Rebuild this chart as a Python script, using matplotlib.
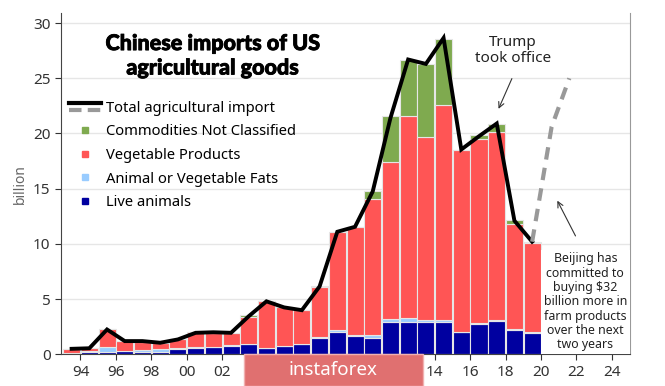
import matplotlib
matplotlib.use("Agg")
import matplotlib.pyplot as plt
import matplotlib.patheffects as pe
from matplotlib.lines import Line2D
from matplotlib.legend_handler import HandlerBase
import numpy as np

# data (billion USD), one bar per year
years = np.arange(1993, 2020)
live_animals = [0.10, 0.18, 0.20, 0.30, 0.24, 0.25, 0.45, 0.60, 0.63, 0.80, 0.90, 0.55, 0.75, 0.93,
                1.45, 2.05, 1.66, 1.45, 2.90, 2.93, 2.95, 2.90, 2.00, 2.75, 3.02, 2.17, 1.96]
fats = [0.05, 0.12, 0.46, 0.03, 0.16, 0.20, 0.15, 0.03, 0.03, 0.03, 0.05, 0.03, 0.03, 0.03,
        0.10, 0.20, 0.10, 0.30, 0.33, 0.40, 0.20, 0.20, 0.03, 0.12, 0.10, 0.10, 0.10]
vegetable = [0.35, 0.30, 1.60, 0.87, 0.70, 0.60, 0.80, 1.37, 1.29, 1.12, 2.45, 4.22, 3.52, 3.04,
             4.55, 8.85, 9.79, 12.33, 14.23, 18.24, 16.55, 19.47, 16.49, 16.65, 17.06, 9.54, 8.04]
not_classified = [0.0, 0.0, 0.0, 0.0, 0.0, 0.0, 0.0, 0.0, 0.0, 0.02, 0.15, 0.0, 0.0, 0.0,
                  0.07, 0.02, 0.0, 0.75, 4.09, 5.11, 6.59, 6.03, 0.0, 0.30, 0.70, 0.37, 0.05]
total = [0.5, 0.55, 2.25, 1.2, 1.2, 1.05, 1.35, 1.95, 2.0, 1.95, 3.45, 4.8, 4.25, 4.0,
         6.15, 11.1, 11.55, 14.75, 21.4, 26.7, 26.3, 28.65, 18.55, 19.75, 20.9, 12.1, 10.2]
# projection after the trade deal
proj_x = [2019.5, 2020.0, 2020.6, 2021.6]
proj_y = [10.2, 14.9, 20.6, 25.0]
tick_years = list(range(1994, 2025, 2))
tick_labels = ["94", "96", "98", "00", "02", "", "", "", "", "", "14", "16", "18", "20", "22", "24"]

c_live = "#0000a0"
c_fats = "#99ccff"
c_veg = "#ff5555"
c_other = "#7faa4f"

plt.rcParams['font.family'] = ['Noto Sans', 'DejaVu Sans']


class TotalHandler(HandlerBase):
    # black line on top of a grey dashed one
    def create_artists(self, legend, orig_handle, xdescent, ydescent, width, height, fontsize, trans):
        y = height / 2 - ydescent
        x0, x1 = -xdescent, width - xdescent
        l1 = Line2D([x0, x1], [y + 2.5, y + 2.5], color="black", lw=3)
        l2 = Line2D([x0, x1], [y - 2.5, y - 2.5], color="#999999", lw=3, ls=(0, (3, 1.5)))
        l1.set_transform(trans)
        l2.set_transform(trans)
        return [l2, l1]


fig = plt.figure(figsize=(6.65, 3.86), dpi=100)
ax = fig.add_axes([0.0917, 0.082, 0.855, 0.884])

x = years + 0.5
b1 = np.array(live_animals)
b2 = b1 + np.array(fats)
b3 = b2 + np.array(vegetable)
kw = dict(width=0.96, edgecolor="#e6e6e6", linewidth=0.8, zorder=2)
ax.bar(x, live_animals, color=c_live, **kw)
ax.bar(x, fats, bottom=b1, color=c_fats, **kw)
ax.bar(x, vegetable, bottom=b2, color=c_veg, **kw)
ax.bar(x, not_classified, bottom=b3, color=c_other, **kw)

ax.plot(x, total, color="black", lw=2.8, zorder=4, solid_joinstyle="miter")
ax.plot(proj_x, proj_y, color="#999999", lw=3, ls=(0, (3, 2)), zorder=4)

ax.set_xlim(1992.9, 2025.0)
ax.set_ylim(0, 30.9)
ax.set_xticks(tick_years)
ax.set_xticklabels(tick_labels)
ax.set_yticks(np.arange(0, 31, 5))
ax.tick_params(axis="both", labelsize=11, colors="#333333", length=4, width=0.8)
ax.grid(axis="y", color="#e6e6e6", lw=1, zorder=0)
ax.set_axisbelow(True)
ax.spines["top"].set_visible(False)
ax.spines["left"].set_color("#444444")
ax.spines["bottom"].set_color("#444444")
ax.spines["right"].set_color("#999999")
ax.set_ylabel("billion", color="#666666", fontsize=10, labelpad=4)

ax.text(0.267, 0.875, "Chinese imports of US\nagricultural goods", transform=ax.transAxes,
        ha="center", va="center", fontsize=15.5, fontweight=900, family="Lato",
        linespacing=1.2, path_effects=[pe.withStroke(linewidth=0.6, foreground="black")])

handles = [Line2D([], []),
           Line2D([], [], marker="s", ls="", color=c_other, markersize=5),
           Line2D([], [], marker="s", ls="", color=c_veg, markersize=5),
           Line2D([], [], marker="s", ls="", color=c_fats, markersize=5),
           Line2D([], [], marker="s", ls="", color=c_live, markersize=5)]
labels = ["Total agricultural import", "Commodities Not Classified", "Vegetable Products",
          "Animal or Vegetable Fats", "Live animals"]
ax.legend(handles, labels, handler_map={handles[0]: TotalHandler()}, loc="upper left",
          bbox_to_anchor=(0.003, 0.76), frameon=False, fontsize=10.6, handlelength=2.2,
          handletextpad=0.35, labelspacing=0.58, borderaxespad=0)

ax.text(2018.42, 27.5, "Trump\ntook office", ha="center", va="center", fontsize=11,
        color="#222222", linespacing=1.15)
ax.annotate("", xy=(2017.54, 22.0), xytext=(2018.42, 25.2),
            arrowprops=dict(arrowstyle="->", color="#333333", lw=0.8))
ax.annotate("", xy=(2020.85, 14.14), xytext=(2022.02, 10.5),
            arrowprops=dict(arrowstyle="->", color="#333333", lw=0.8))
ax.text(2022.5, 4.75, "Beijing has\ncommitted to\nbuying $32\nbillion more in\nfarm products\nover the next\ntwo years",
        ha="center", va="center", fontsize=8.9, color="#222222", linespacing=1.13, zorder=5,
        bbox=dict(facecolor="white", edgecolor="none", pad=2))

# watermark box
fig.patches.append(plt.Rectangle((244 / 665, 0), (423 - 244) / 665, 32 / 386,
                                 transform=fig.transFigure, facecolor="#e07070",
                                 edgecolor="#f0b0b0", lw=1, zorder=10))
fig.text(333 / 665, 16 / 386, "instaforex", ha="center", va="center", color="white",
         fontsize=13.5, zorder=11)

fig.savefig("out.png", dpi=100)
